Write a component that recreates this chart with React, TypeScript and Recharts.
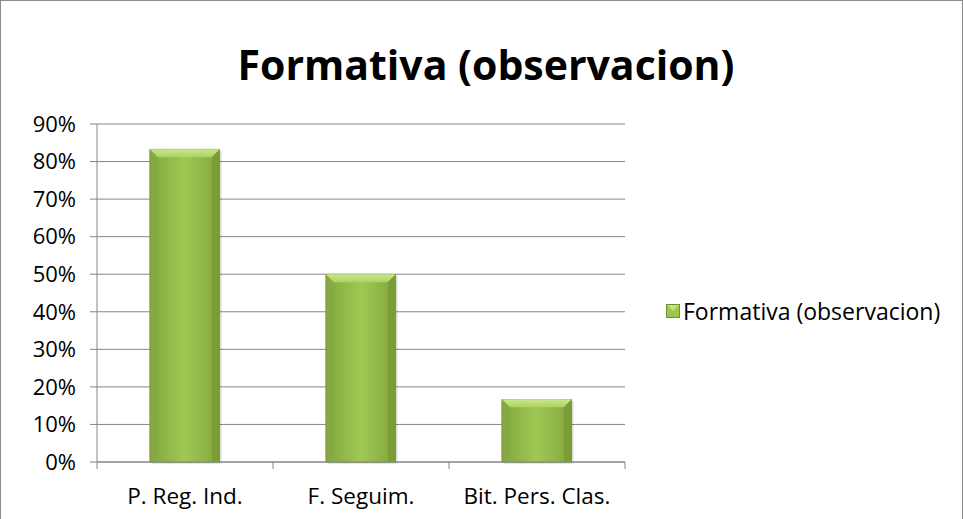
import { Bar, BarChart, CartesianGrid, Legend, XAxis, YAxis } from "recharts";

const categories = ["P. Reg. Ind.", "F. Seguim.", "Bit. Pers. Clas."];
const observacion = [0.833, 0.5, 0.167];
const yTicks = [0, 0.1, 0.2, 0.3, 0.4, 0.5, 0.6, 0.7, 0.8, 0.9];
const seriesName = "Formativa (observacion)";

const chartData = categories.map((name, i) => ({ name, value: observacion[i] }));

const W = 963;
const H = 519;
const PLOT_LEFT = 97;
const PLOT_RIGHT = 625;
const FONT = "'Open Sans', 'Noto Sans', sans-serif";
const GRAY = "#868686";

const BevelBar = (props: any) => {
  const { x, y, width, height } = props;
  if (!height || height <= 0) return null;
  const b = Math.min(8, height / 2);
  return (
    <g>
      <rect x={x + 2} y={y + 2} width={width} height={height} fill="#000" opacity={0.1} />
      <rect x={x} y={y} width={width} height={height} fill="url(#barBody)" stroke="#769838" strokeWidth={0.6} />
      <polygon
        points={`${x},${y} ${x + width},${y} ${x + width - b},${y + b} ${x + b},${y + b}`}
        fill="url(#barTop)"
      />
      <polygon points={`${x},${y} ${x + b},${y + b} ${x + b},${y + height} ${x},${y + height}`} fill="#86a843" opacity={0.5} />
      <polygon
        points={`${x + width},${y} ${x + width - b},${y + b} ${x + width - b},${y + height} ${x + width},${y + height}`}
        fill="#72922f"
        opacity={0.55}
      />
    </g>
  );
};

const XTick = (props: any) => {
  const { x, y, payload, index } = props;
  const band = (PLOT_RIGHT - PLOT_LEFT) / categories.length;
  const left = x - band / 2;
  return (
    <g>
      <line x1={left} y1={y - 8} x2={left} y2={y - 1} stroke={GRAY} />
      {index === categories.length - 1 && (
        <line x1={left + band} y1={y - 8} x2={left + band} y2={y - 1} stroke={GRAY} />
      )}
      <text x={x} y={y + 34} textAnchor="middle" fontSize={22.5} fill="#000" fontFamily={FONT}>
        {payload.value}
      </text>
    </g>
  );
};

const LegendBox = () => (
  <div style={{ display: "flex", alignItems: "center", fontFamily: FONT, fontSize: 23, color: "#000" }}>
    <svg width={14} height={14} style={{ marginRight: 3 }}>
      <rect x={0.5} y={0.5} width={13} height={13} fill="#9bc64a" stroke="#6f8f34" />
      <polygon points="1,1 13,1 7,7" fill="#c2e07f" />
    </svg>
    <span>{seriesName}</span>
  </div>
);

export default function App() {
  return (
    <div
      style={{
        position: "absolute",
        left: 0,
        top: 0,
        width: W,
        height: H,
        background: "#fff",
        overflow: "hidden",
      }}
    >
      <div
        style={{
          position: "absolute",
          left: 0,
          top: 0,
          width: W - 2,
          height: H + 20,
          border: "1px solid #8c8c8c",
        }}
      />
      <div
        style={{
          position: "absolute",
          left: 0,
          width: 972,
          top: 36,
          textAlign: "center",
          fontFamily: FONT,
          fontWeight: 700,
          fontSize: 41,
          color: "#000",
        }}
      >
        Formativa (observacion)
      </div>
      <BarChart
        width={W}
        height={H}
        data={chartData}
        margin={{ top: 124, right: W - PLOT_RIGHT, bottom: 0, left: 0 }}
        barCategoryGap="30%"
        style={{ position: "absolute", left: 0, top: 0 }}
      >
        <defs>
          <linearGradient id="barBody" x1="0" y1="0" x2="1" y2="0">
            <stop offset="0" stopColor="#82a63e" />
            <stop offset="0.5" stopColor="#9fc853" />
            <stop offset="1" stopColor="#82a63e" />
          </linearGradient>
          <linearGradient id="barTop" x1="0" y1="0" x2="0" y2="1">
            <stop offset="0" stopColor="#cbe690" />
            <stop offset="1" stopColor="#acd35f" />
          </linearGradient>
        </defs>
        <CartesianGrid vertical={false} stroke={GRAY} strokeWidth={1} />
        <XAxis
          dataKey="name"
          height={H - 462}
          axisLine={{ stroke: GRAY }}
          tickLine={false}
          tick={<XTick />}
          interval={0}
        />
        <YAxis
          width={PLOT_LEFT}
          domain={[0, 0.9]}
          ticks={yTicks}
          interval={0}
          axisLine={{ stroke: GRAY }}
          tickLine={{ stroke: GRAY }}
          tickSize={7}
          tickMargin={14}
          tickFormatter={(v: number) => `${Math.round(v * 100)}%`}
          tick={{ fill: "#000", fontSize: 22, fontFamily: FONT }}
        />
        <Legend
          layout="horizontal"
          verticalAlign="middle"
          align="center"
          content={<LegendBox />}
          wrapperStyle={{ position: "absolute", left: 666, top: 295, width: 297 }}
        />
        <Bar dataKey="value" name={seriesName} shape={<BevelBar />} isAnimationActive={false} />
      </BarChart>
    </div>
  );
}
